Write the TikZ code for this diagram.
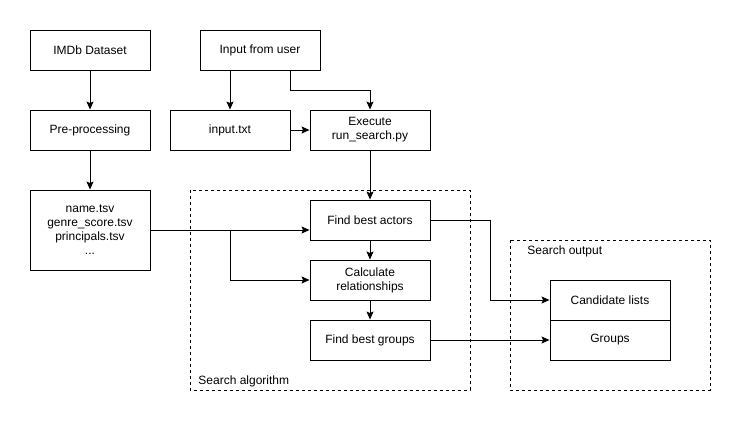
\documentclass[tikz,border=0pt]{standalone}
\usepackage{fontspec}
\setmainfont{Liberation Sans}
\usetikzlibrary{arrows.meta}

\begin{document}
\begin{tikzpicture}[x=1pt,y=-1pt,line width=0.9pt,
    box/.style={draw, minimum width=120pt, minimum height=40pt, inner sep=0pt, align=center, font=\fontsize{12}{14}\selectfont},
    frame/.style={draw, dash pattern=on 3pt off 3pt},
    label/.style={anchor=west, inner sep=0pt, font=\fontsize{12}{14}\selectfont},
    >={Stealth[length=8pt,width=7pt,inset=1.5pt]}]
    \useasboundingbox (0,0) rectangle (742,422);
    \node[box] (imdb) at (90,50) {IMDb Dataset};
    \node[box] (user) at (260,50) {Input from user};
    \node[box] (prep) at (90,130) {Pre-processing};
    \node[box] (inp) at (230,130) {input.txt};
    \node[box] (exec) at (370,130) {Execute\\run\_search.py};
    \node[box, minimum height=80pt] (files) at (90,230) {name.tsv\\genre\_score.tsv\\principals.tsv\\...};
    % search algorithm
    \draw[frame] (190,190) rectangle (470,390);
    \node[label] (algo) at (198,381) {Search algorithm};
    \node[box] (actors) at (370,220) {Find best actors};
    \node[box] (rel) at (370,280) {Calculate\\relationships};
    \node[box] (groups) at (370,340) {Find best groups};
    % search output
    \draw[frame] (510,240) rectangle (710,390);
    \node[label] (out) at (527,251) {Search output};
    \node[box] (cand) at (610,300) {Candidate lists};
    \node[box] (grp) at (610,340) {Groups};
    \coordinate (split) at (230,230);
    \draw[->] (imdb) -- (prep);
    \draw[->] (prep) -- (files);
    \draw[->] (user.south -| inp) -- (inp);
    \draw[->] ([xshift=30pt]user.south) -- ++(0,20) -| (exec.north);
    \draw[->] (inp) -- (exec);
    \draw[->] (exec) -- (actors);
    \draw[->] (files.east) -- ([yshift=-10pt]actors.west);
    \draw[->] (split) |- (rel.west);
    \draw[->] (actors) -- (rel);
    \draw[->] (rel) -- (groups);
    \draw[->] (actors.east) -- ++(60,0) |- (cand.west);
    \draw[->] (groups) -- (grp);
\end{tikzpicture}
\end{document}
